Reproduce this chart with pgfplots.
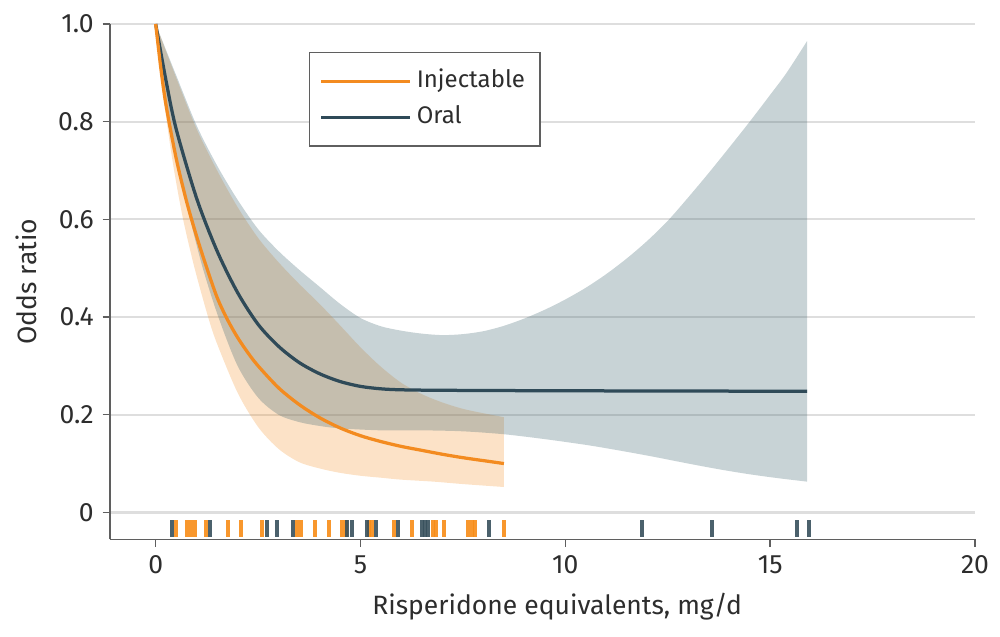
\documentclass[border=0pt]{standalone}
\usepackage{fontspec}
\setmainfont{Fira Sans}
\usepackage{pgfplots}
\pgfplotsset{compat=1.18}
\usepgfplotslibrary{fillbetween}
\definecolor{orangeline}{RGB}{243,139,32}
\definecolor{darkline}{RGB}{47,74,88}
\definecolor{orangefill}{RGB}{242,140,30}
\definecolor{greyfill}{RGB}{72,108,118}
\definecolor{rugorange}{RGB}{247,140,22}
\definecolor{rugdark}{RGB}{55,80,92}
\definecolor{gridc}{RGB}{222,222,222}
\definecolor{axc}{RGB}{95,95,95}
\definecolor{txtc}{RGB}{45,45,45}
\begin{document}
\begin{tikzpicture}
\begin{axis}[
  name=ax,
  scale only axis,
  width=346pt, height=206.1pt,
  xmin=-1.115, xmax=20, ymin=-0.055, ymax=1.0,
  axis lines*=left,
  axis line style={axc, line width=0.6pt},
  tick align=outside,
  major tick length=3pt,
  tick style={axc, line width=0.6pt},
  xtick={0,5,10,15,20},
  ytick={0,0.2,0.4,0.6,0.8,1.0},
  yticklabels={0,0.2,0.4,0.6,0.8,1.0},
  ymajorgrids,
  grid style={gridc, line width=0.9pt},
  /pgf/number format/assume math mode=true,
  tick label style={font=\fontsize{10.6}{12}\selectfont, text=txtc},
  label style={font=\fontsize{10.6}{12}\selectfont, text=txtc},
  xlabel={Risperidone equivalents, mg/d},
  ylabel={Odds ratio},
  xlabel style={at={(axis description cs:0.517,-0.131)}, anchor=center},
  ylabel style={at={(axis description cs:-0.0973,0.5)}, anchor=center},
  clip=false,
  reverse legend,
  legend image code/.code={\path (0pt,0pt) -- (35.6pt,0pt); \draw[#1] (2.4pt,0pt) -- (34pt,0pt);},
  legend style={at={(axis description cs:0.230,0.9457)}, anchor=north west,
    draw=axc, line width=0.5pt, inner xsep=4pt, inner ysep=4.5pt,
    font=\fontsize{9.6}{12}\selectfont, text=txtc,
    nodes={text height=7.5pt, text depth=2.5pt, inner sep=2pt},
    row sep=0.4pt},
  legend cell align=left,
]
% Injectable CI bounds
\addplot[draw=none, smooth, name path=iu, forget plot] coordinates {
 (0,1.0) (0.5,0.89) (1.0,0.785) (1.5,0.70) (2.0,0.625) (2.5,0.562) (3.0,0.512) (3.5,0.468) (4.0,0.427) (4.5,0.383) (5.0,0.338) (5.5,0.298) (6.0,0.265) (6.5,0.242) (7.0,0.225) (7.5,0.212) (8.0,0.203) (8.5,0.195)
};
\addplot[draw=none, smooth, name path=il, forget plot] coordinates {
 (0,1.0) (0.12,0.9) (0.27,0.8) (0.45,0.7) (0.67,0.6) (0.95,0.5) (1.28,0.4) (1.5,0.345) (2.0,0.245) (2.5,0.175) (3.0,0.130) (3.5,0.103) (4.0,0.090) (4.5,0.081) (5.0,0.075) (5.5,0.071) (6.0,0.067) (6.78,0.063) (7.5,0.058) (8.5,0.052)
};
\addplot[fill=orangefill, fill opacity=0.25, draw=none, forget plot] fill between[of=iu and il];
% Oral CI bounds
\addplot[draw=none, smooth, name path=ou, forget plot] coordinates {
 (0,1.0) (0.5,0.895) (1.0,0.792) (1.5,0.71) (2.0,0.64) (2.5,0.58) (3.0,0.535) (3.5,0.497) (4.0,0.462) (4.5,0.427) (5.0,0.398) (5.5,0.381) (6.0,0.372) (6.5,0.366) (7.0,0.363) (7.5,0.365) (8.0,0.371) (8.5,0.382) (9.0,0.397) (9.5,0.415) (10.0,0.436) (10.5,0.46) (11.0,0.488) (11.5,0.52) (12.0,0.556) (12.5,0.597) (13.0,0.645) (13.5,0.695) (14.0,0.747) (14.5,0.8) (15.0,0.855) (15.4,0.9) (15.9,0.965)
};
\addplot[draw=none, smooth, name path=ol, forget plot] coordinates {
 (0,1.0) (0.15,0.9) (0.33,0.8) (0.55,0.7) (0.84,0.6) (1.15,0.5) (1.53,0.4) (2.0,0.30) (2.5,0.235) (3.0,0.200) (3.5,0.185) (4.0,0.177) (4.5,0.172) (5.5,0.168) (6.5,0.168) (7.5,0.166) (8.5,0.160) (9.5,0.150) (10.52,0.138) (11.3,0.127) (12.15,0.114) (13.0,0.100) (13.77,0.088) (14.5,0.078) (15.2,0.070) (15.9,0.063)
};
\addplot[fill=greyfill, fill opacity=0.3, draw=none, forget plot] fill between[of=ou and ol];
% rugs
\addplot[only marks, mark=|, mark size=3.4pt, mark options={line width=1.6pt, draw=rugorange, draw opacity=0.9}, forget plot] coordinates {
 (0.496,-0.033) (0.76,-0.033) (0.85,-0.033) (0.96,-0.033) (1.23,-0.033) (1.76,-0.033) (2.08,-0.033) (2.59,-0.033) (3.44,-0.033) (3.54,-0.033) (3.88,-0.033) (4.24,-0.033) (4.56,-0.033) (4.64,-0.033) (5.21,-0.033) (5.29,-0.033) (5.82,-0.033) (6.25,-0.033) (6.76,-0.033) (6.84,-0.033) (7.05,-0.033) (7.63,-0.033) (7.71,-0.033) (7.79,-0.033) (8.50,-0.033)
};
\addplot[only marks, mark=|, mark size=3.4pt, mark options={line width=1.6pt, draw=rugdark, draw opacity=0.9}, forget plot] coordinates {
 (0.405,-0.033) (1.325,-0.033) (2.71,-0.033) (2.96,-0.033) (3.34,-0.033) (4.68,-0.033) (4.78,-0.033) (5.17,-0.033) (5.37,-0.033) (5.92,-0.033) (6.49,-0.033) (6.57,-0.033) (6.65,-0.033) (8.14,-0.033) (11.88,-0.033) (13.59,-0.033) (15.65,-0.033) (15.94,-0.033)
};
% Oral line
\addplot[darkline, line width=1.3pt, smooth] coordinates {
 (0,1.0) (0.25,0.885) (0.5,0.785) (1.0,0.643) (1.5,0.535) (2.0,0.450) (2.5,0.385) (3.0,0.340) (3.5,0.307) (4.0,0.284) (4.5,0.268) (5.0,0.258) (5.5,0.253) (6.0,0.251) (7.0,0.250) (10.0,0.249) (15.9,0.248)
};
\addlegendentry{Oral}
% Injectable line
\addplot[orangeline, line width=1.3pt, smooth] coordinates {
 (0,1.0) (0.125,0.91) (0.25,0.835) (0.5,0.725) (0.75,0.638) (1.0,0.565) (1.25,0.5) (1.5,0.44) (1.75,0.395) (2.0,0.358) (2.25,0.327) (2.5,0.300) (3.0,0.255) (3.5,0.221) (4.0,0.194) (4.5,0.173) (5.0,0.157) (5.5,0.145) (6.0,0.135) (6.5,0.127) (7.0,0.119) (7.5,0.112) (8.0,0.106) (8.5,0.100)
};
\addlegendentry{Injectable}
\end{axis}
\pgfresetboundingbox
\useasboundingbox ([shift={(-44pt,-38.7pt)}]ax.south west) rectangle ([shift={(10pt,9.6pt)}]ax.north east);
\end{tikzpicture}
\end{document}
